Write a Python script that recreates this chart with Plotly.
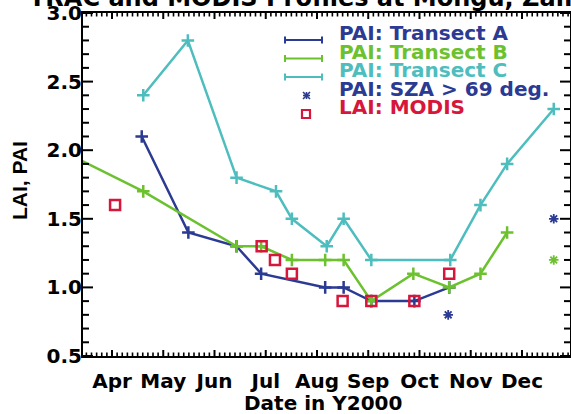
import plotly.graph_objects as go

# ---- data (x in month units: 4 = Apr, 5 = May, ...) ----
month_ticks = [4, 5, 6, 7, 8, 9, 10, 11, 12]
month_labels = ["Apr", "May", "Jun", "Jul", "Aug", "Sep", "Oct", "Nov", "Dec"]
y_ticks = [0.5, 1.0, 1.5, 2.0, 2.5, 3.0]

a_x = [4.58, 5.49, 6.43, 6.91, 8.16, 8.52, 9.06, 9.90, 10.58]
a_y = [2.10, 1.40, 1.30, 1.10, 1.00, 1.00, 0.90, 0.90, 1.00]

b_x = [3.00, 4.61, 6.43, 6.91, 7.51, 8.16, 8.52, 9.06, 9.88, 10.58, 11.19, 11.71]
b_y = [2.00, 1.70, 1.30, 1.30, 1.20, 1.20, 1.20, 0.90, 1.10, 1.00, 1.10, 1.40]

c_x = [4.61, 5.48, 6.43, 7.20, 7.51, 8.19, 8.52, 9.06, 10.60, 11.19, 11.71, 12.62]
c_y = [2.40, 2.80, 1.80, 1.70, 1.50, 1.30, 1.50, 1.20, 1.20, 1.60, 1.90, 2.30]

sza_a_x = [10.56, 12.62]
sza_a_y = [0.80, 1.50]
sza_b_x = [12.62]
sza_b_y = [1.20]

modis_x = [4.06, 6.92, 7.18, 7.51, 8.50, 9.06, 9.90, 10.58]
modis_y = [1.60, 1.30, 1.20, 1.10, 0.90, 0.90, 0.90, 1.10]

BLUE = "#2b3a92"
GREEN = "#6cc12e"
CYAN = "#4dbdbd"
RED = "#d7163c"

# ---- geometry (pixels) ----
W, H = 571, 414
L, R, T, B = 83, 570, 13, 356
PW, PH = R - L, B - T
FONT = "DejaVu Sans"
XRANGE = [3.434, 12.937]
YRANGE = [0.5, 3.0]


def pxx(x):
    return (x - L) / PW


def pxy(y):
    return (B - y) / PH


def frac_x(v):
    return (v - XRANGE[0]) / (XRANGE[1] - XRANGE[0])


def frac_y(v):
    return (v - YRANGE[0]) / (YRANGE[1] - YRANGE[0])


fig = go.Figure()


def add_line(x, y, color):
    fig.add_trace(go.Scatter(
        x=x, y=y, mode="lines+markers",
        line=dict(color=color, width=2.5),
        marker=dict(symbol="cross-thin", size=9, color=color, line=dict(color=color, width=2.5)),
        showlegend=False, hoverinfo="skip"))


add_line(a_x, a_y, BLUE)
add_line(b_x, b_y, GREEN)
add_line(c_x, c_y, CYAN)

fig.add_trace(go.Scatter(x=sza_a_x, y=sza_a_y, mode="markers",
                         marker=dict(symbol="asterisk-open", size=8, color=BLUE,
                                     line=dict(color=BLUE, width=1.8)),
                         showlegend=False))
fig.add_trace(go.Scatter(x=sza_b_x, y=sza_b_y, mode="markers",
                         marker=dict(symbol="asterisk-open", size=8, color=GREEN,
                                     line=dict(color=GREEN, width=1.8)),
                         showlegend=False))
fig.add_trace(go.Scatter(x=modis_x, y=modis_y, mode="markers",
                         marker=dict(symbol="square-open", size=10, color=RED,
                                     line=dict(color=RED, width=2.5)),
                         showlegend=False))

common = dict(showgrid=False, zeroline=False, ticks="", automargin=False,
              showline=True, linewidth=2, linecolor="black", mirror=True)

fig.update_layout(
    xaxis=dict(range=XRANGE, tickmode="array", tickvals=month_ticks, ticktext=month_labels,
               ticklabelstandoff=6,
               tickfont=dict(family=FONT, size=20, weight="bold", color="black"), **common),
    yaxis=dict(range=YRANGE, tickmode="array", tickvals=y_ticks, tickformat=".1f",
               ticklabelstandoff=-5,
               tickfont=dict(family=FONT, size=20, weight="bold", color="black"), **common),
)

shapes = []

# ---- axis ticks (IDL style: inside, on all four sides) ----
def tick_x(v, length, width):
    f = frac_x(v)
    h = length / PH
    for y0, y1 in ((0, h), (1, 1 - h)):
        shapes.append(dict(type="line", xref="paper", yref="paper", x0=f, x1=f, y0=y0, y1=y1,
                           line=dict(color="black", width=width)))


def tick_y(v, length, width):
    f = frac_y(v)
    w = length / PW
    for x0, x1 in ((0, w), (1, 1 - w)):
        shapes.append(dict(type="line", xref="paper", yref="paper", x0=x0, x1=x1, y0=f, y1=f,
                           line=dict(color="black", width=width)))


k = 0
while 4 + (k - 1) * 0.1 >= XRANGE[0]:
    k -= 1
while 4 + k * 0.1 <= XRANGE[1]:
    v = 4 + k * 0.1
    if k % 10 == 0:
        tick_x(v, 6, 2)
    else:
        tick_x(v, 3.5, 1.6)
    k += 1

for k in range(0, 26):
    v = 0.5 + k * 0.1
    if k % 5 == 0:
        tick_y(v, 10, 2)
    else:
        tick_y(v, 6, 2)

ann = []
# title (partly cut off at the top)
ann.append(dict(text="TRAC and MODIS Profiles at Mongu, Zambia", xref="paper", yref="paper",
                x=pxx(27), y=pxy(14), xanchor="left", yanchor="bottom", showarrow=False,
                font=dict(family=FONT, size=24, weight="bold", color="black")))
ann.append(dict(text="Date in Y2000", xref="paper", yref="paper", x=pxx(323), y=pxy(403),
                xanchor="center", yanchor="middle", showarrow=False,
                font=dict(family=FONT, size=20, weight="bold", color="black")))
ann.append(dict(text="LAI, PAI", xref="paper", yref="paper", x=pxx(19), y=pxy(181),
                xanchor="center", yanchor="middle", showarrow=False, textangle=-90,
                font=dict(family="Liberation Sans", size=21, weight="bold", color="black")))

legend_items = [
    ("PAI: Transect A", BLUE, "line", 33),
    ("PAI: Transect B", GREEN, "line", 51.5),
    ("PAI: Transect C", CYAN, "line", 70),
    ("PAI: SZA > 69 deg.", BLUE, "star", 88.5),
    ("LAI: MODIS", RED, "square", 107),
]
for text, color, kind, yc in legend_items:
    ann.append(dict(text=text, xref="paper", yref="paper", x=pxx(337), y=pxy(yc),
                    xanchor="left", yanchor="middle", showarrow=False,
                    font=dict(family=FONT, size=20, weight="bold", color=color)))
    gy = yc + 7
    if kind == "line":
        shapes.append(dict(type="line", xref="paper", yref="paper", x0=pxx(285), x1=pxx(322),
                           y0=pxy(gy), y1=pxy(gy), line=dict(color=color, width=2)))
        for ex in (285, 322):
            shapes.append(dict(type="line", xref="paper", yref="paper", x0=pxx(ex), x1=pxx(ex),
                               y0=pxy(gy - 3.5), y1=pxy(gy + 3.5), line=dict(color=color, width=2)))
    elif kind == "star":
        cx, s = 306.5, 3.5
        for dx, dy in ((0, s), (s, s), (s, -s), (s, 0)):
            shapes.append(dict(type="line", xref="paper", yref="paper", x0=pxx(cx - dx), x1=pxx(cx + dx),
                               y0=pxy(gy - dy), y1=pxy(gy + dy), line=dict(color=color, width=1.6)))
    else:
        cx, s = 306, 4
        shapes.append(dict(type="rect", xref="paper", yref="paper", x0=pxx(cx - s), x1=pxx(cx + s),
                           y0=pxy(gy - s), y1=pxy(gy + s), line=dict(color=color, width=2.2)))

fig.update_layout(width=W, height=H, margin=dict(l=L, r=W - R, t=T, b=H - B),
                  paper_bgcolor="white", plot_bgcolor="white", showlegend=False,
                  annotations=ann, shapes=shapes, font=dict(family=FONT, color="black"))

fig.write_html("out.html", config={"displayModeBar": False},
               post_script="document.body.style.margin='0';")
